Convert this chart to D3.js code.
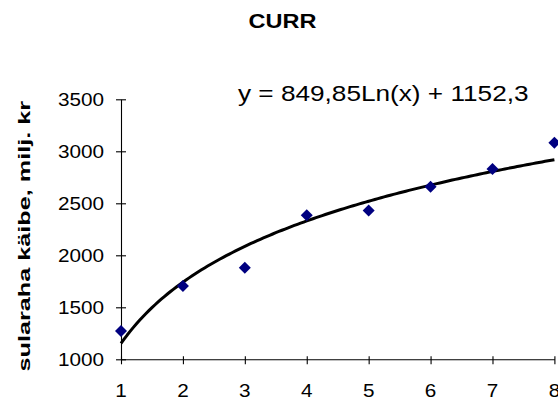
<!DOCTYPE html>
<html>
<head>
<meta charset="utf-8">
<script src="https://cdn.jsdelivr.net/npm/d3@7"></script>
<style>
  html, body { margin: 0; padding: 0; background: #fff; }
  svg { display: block; }
  text { font-family: "Liberation Sans", Arial, sans-serif; fill: #000; }
</style>
</head>
<body>
<svg id="chart" width="558" height="399"></svg>
<script>
// Cash turnover by period
const periods = [1, 2, 3, 4, 5, 6, 7, 8];
const turnover = [1272, 1705, 1881, 2385, 2430, 2660, 2830, 3083];
const xTicks = [1, 2, 3, 4, 5, 6, 7, 8];
const yTicks = [1000, 1500, 2000, 2500, 3000, 3500];
// Logarithmic trend: y = a*ln(x) + b
const trendA = 849.85;
const trendB = 1152.3;
const trendLabel = "y = 849,85Ln(x) + 1152,3";
const title = "CURR";
const yTitle = "sularaha käibe, milj. kr";

const svg = d3.select("#chart");

const x = d3.scaleLinear().domain([1, 8]).range([121, 554.4]);
const y = d3.scaleLinear().domain([1000, 3500]).range([359.3, 99.3]);

// Text drawn with a horizontal stretch factor
function stretchedText(g, px, py, str, sx) {
  return g.append("text")
    .attr("transform", `translate(${px},${py}) scale(${sx},1)`)
    .text(str);
}

// Axes
const yAxis = svg.append("g").attr("transform", `translate(${x(1)},0)`)
  .call(d3.axisLeft(y).tickValues(yTicks).tickSize(5).tickSizeOuter(0).tickFormat(""));
yAxis.selectAll(".tick line").attr("x1", -5).attr("x2", 5);
const xAxis = svg.append("g").attr("transform", `translate(0,${y(1000)})`)
  .call(d3.axisBottom(x).tickValues(xTicks).tickSize(5).tickSizeOuter(0).tickFormat(""));
xAxis.selectAll(".tick line").attr("y1", -3).attr("y2", 5);
svg.selectAll(".domain").attr("stroke", "#000").attr("stroke-width", 1.1);
svg.selectAll(".tick line").attr("stroke", "#000").attr("stroke-width", 1.1);

// Tick labels
const yLab = svg.append("g").attr("font-size", 18.5).attr("text-anchor", "end");
yTicks.forEach(v => stretchedText(yLab, 104, y(v) + 6.6, v, 1.12));
const xLab = svg.append("g").attr("font-size", 18.5).attr("text-anchor", "middle");
xTicks.forEach(v => stretchedText(xLab, x(v), 396.7, v, 1.12));

// Trend curve
const trendPts = d3.range(1, 8.0001, 0.05).map(v => [v, trendA * Math.log(v) + trendB]);
svg.append("path")
  .datum(trendPts)
  .attr("fill", "none")
  .attr("stroke", "#000")
  .attr("stroke-width", 3)
  .attr("stroke-linejoin", "round")
  .attr("d", d3.line().x(d => x(d[0])).y(d => y(d[1])));

// Observations as diamonds
const r = 6;
svg.append("g").selectAll("path")
  .data(periods.map((p, i) => [p, turnover[i]]))
  .join("path")
  .attr("fill", "#000080")
  .attr("d", d => {
    const cx = x(d[0]), cy = y(d[1]);
    return `M${cx},${cy - r}L${cx + r},${cy}L${cx},${cy + r}L${cx - r},${cy}Z`;
  });

// Titles
svg.append("g").attr("font-size", 21).attr("font-weight", "bold").attr("text-anchor", "middle")
  .call(g => stretchedText(g, 282.5, 28.3, title, 1.12));
svg.append("g").attr("font-size", 22).attr("text-anchor", "start")
  .call(g => stretchedText(g, 238, 100.7, trendLabel, 1.19));
svg.append("text")
  .attr("transform", "translate(29.5,236.2) rotate(-90) scale(1.53,1)")
  .attr("font-size", 16.5).attr("font-weight", "bold").attr("text-anchor", "middle")
  .text(yTitle);
</script>
</body>
</html>
